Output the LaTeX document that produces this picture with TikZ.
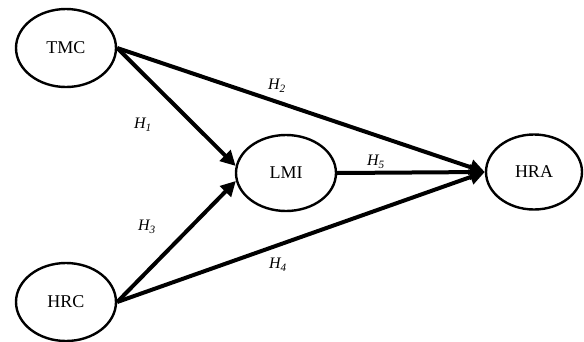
\documentclass[tikz,border=0pt]{standalone}
\usepackage{fontspec}
\setmainfont{Liberation Serif}
\usetikzlibrary{shapes.geometric,arrows.meta}
\begin{document}
\begin{tikzpicture}[x=1pt,y=-1pt,
  var/.style={ellipse,draw,line width=2.4pt,minimum width=100pt,minimum height=78pt,inner sep=0pt,font=\fontsize{18}{20}\selectfont},
  link/.style={line width=4pt,-{Triangle[length=15pt,width=15pt]}},
  hyp/.style={font=\fontsize{16}{18}\selectfont\itshape}]
\useasboundingbox (0,0) rectangle (584,341);
\node[var] (TMC) at (66,48) {TMC};
\node[var] (HRC) at (66,302) {HRC};
\node[var,minimum height=76pt] (LMI) at (286,173) {LMI};
\node[var,minimum width=96pt,minimum height=75pt] (HRA) at (534,172) {HRA};
\draw[link] (TMC.east) -- (LMI.172);
\draw[link] (TMC.east) -- (HRA.west);
\draw[link] (HRC.east) -- (LMI.189);
\draw[link] (HRC.east) -- (HRA.west);
\draw[link] (LMI.east) -- (HRA.west);
\node[hyp] (h1) at (143,125) {H\textsubscript{1}};
\node[hyp] (h2) at (277,86) {H\textsubscript{2}};
\node[hyp] (h3) at (147,227) {H\textsubscript{3}};
\node[hyp] (h4) at (278,265) {H\textsubscript{4}};
\node[hyp] (h5) at (376,162) {H\textsubscript{5}};
\end{tikzpicture}
\end{document}
